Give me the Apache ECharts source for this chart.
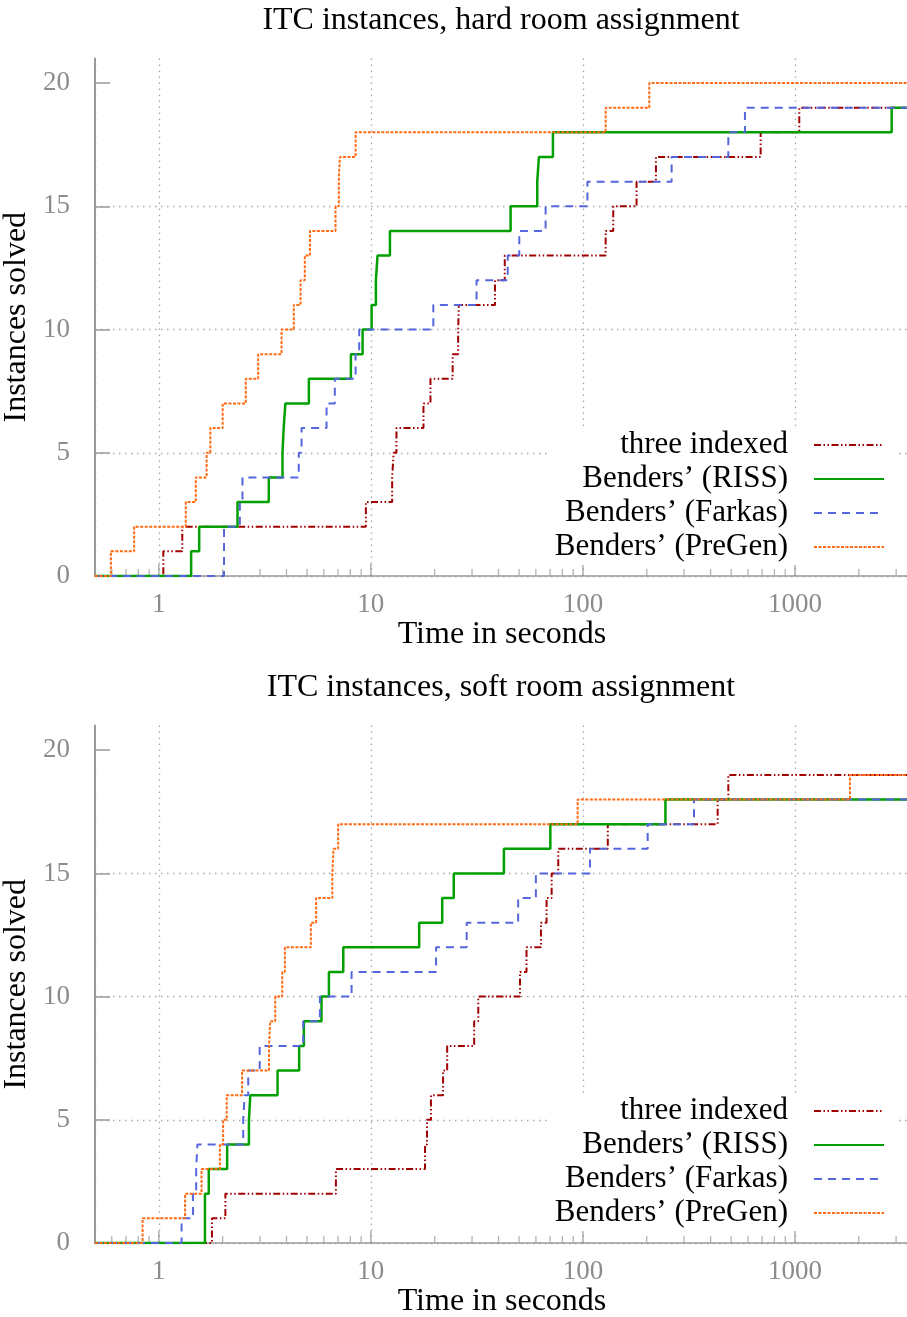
<!DOCTYPE html>
<html>
<head>
<meta charset="utf-8">
<script src="https://cdn.jsdelivr.net/npm/echarts@6/dist/echarts.min.js"></script>
<style>
html, body { margin: 0; padding: 0; background: #fff; }
#chart { width: 907px; height: 1317px; }
</style>
</head>
<body>
<div id="chart"></div>
<script>
// axis ticks
const majorTicks = [1, 10, 100, 1000];
const minorTicks = [0.6, 0.7, 0.8, 0.9, 2, 3, 4, 5, 6, 7, 8, 9, 20, 30, 40, 50, 60, 70, 80, 90,
  200, 300, 400, 500, 600, 700, 800, 900, 2000, 3000];
const yTicks = [0, 5, 10, 15, 20];
const xMin = 0.5;
const xMax = 3450;

const seriesNames = ['three indexed', 'Benders’ (RISS)', 'Benders’ (Farkas)', 'Benders’ (PreGen)'];
const titles = ['ITC instances, hard room assignment', 'ITC instances, soft room assignment'];

// solve times in seconds, one entry per solved instance (hard room assignment)
const hardThreeIndexed = [1.05, 1.29, 9.47, 12.6, 12.8, 13.2, 17.7, 19.1, 24.3, 25.8, 26.0, 38.5, 42.8, 128, 139, 179, 221, 689, 1048];
const hardRiss = [1.42, 1.55, 2.35, 3.30, 3.83, 3.88, 3.95, 5.1, 8.05, 9.14, 10.08, 10.56, 10.75, 12.3, 45.6, 60.9, 62.0, 72.2, 2858];
const hardFarkas = [2.03, 2.03, 2.41, 2.48, 4.57, 4.71, 6.18, 6.76, 8.47, 8.81, 19.7, 31.5, 44.2, 50.1, 66.7, 105, 262, 485, 581];
const hardPreGen = [0.594, 0.765, 1.34, 1.494, 1.68, 1.75, 2.0, 2.57, 2.94, 3.79, 4.33, 4.66, 4.88, 5.16, 6.81, 7.06, 7.14, 8.47, 128, 205.6];

// soft room assignment
const softThreeIndexed = [1.78, 2.06, 6.84, 18.0, 18.4, 19.2, 21.9, 22.9, 30.7, 32.1, 50.5, 54.2, 63.4, 67.4, 71.2, 76.5, 131, 432, 485];
const softRiss = [1.65, 1.65, 1.72, 2.10, 2.66, 2.70, 3.63, 4.59, 4.83, 5.85, 6.34, 7.41, 16.9, 21.7, 24.6, 42.4, 70.2, 245];
const softFarkas = [1.28, 1.45, 1.50, 1.52, 2.50, 2.54, 2.64, 2.99, 4.80, 5.75, 8.11, 20.3, 28.3, 49.5, 60, 108, 202, 334];
const softPreGen = [0.838, 1.33, 1.59, 1.94, 2.01, 2.09, 2.47, 3.31, 3.35, 3.54, 3.82, 3.93, 5.21, 5.52, 6.58, 6.67, 7.01, 94.4, 1817];

const font = 'Liberation Serif';
const tickGray = '#8c8c8c';
const lineGray = '#9a9a9a';

const styles = [
  { color: '#a00000', width: 2, type: [7, 2.5, 1.5, 2.5, 1.5, 2.5] },
  { color: '#00a000', width: 2.5, type: 'solid' },
  { color: '#5566dd', width: 2, type: [8, 6] },
  { color: '#ff6a13', width: 2, type: [3, 1.5] },
];

// cumulative count of solved instances
function steps(times) {
  const data = [[xMin, 0]];
  times.forEach((t, i) => data.push([t, i + 1]));
  data.push([xMax, times.length]);
  return data;
}

const grids = [
  { left: 95, width: 814, top: 58.4, height: 517.6, containLabel: false, outerBoundsMode: 'none' },
  { left: 95, width: 814, top: 725.6, height: 517.4, containLabel: false, outerBoundsMode: 'none' },
];

const xAxes = [];
const yAxes = [];
[0, 1].forEach((g) => {
  xAxes.push({
    type: 'log', logBase: 10, gridIndex: g, min: xMin, max: xMax, position: 'bottom',
    name: 'Time in seconds', nameLocation: 'middle', nameGap: 40,
    nameTextStyle: { fontFamily: font, fontSize: 32, color: '#000' },
    axisLine: { show: true, onZero: false, lineStyle: { color: lineGray, width: 1.5 } },
    axisTick: { show: false },
    axisLabel: { customValues: majorTicks, margin: 15, fontFamily: font, fontSize: 27, color: tickGray,
      formatter: (v) => String(v) },
    splitLine: { show: true, lineStyle: { color: '#a8a8a8', width: 1.3, type: [1.5, 4.5] } },
  });
  yAxes.push({
    type: 'value', gridIndex: g, min: 0, max: 21,
    name: 'Instances solved', nameLocation: 'middle', nameGap: 52,
    nameTextStyle: { fontFamily: font, fontSize: 32, color: '#000' },
    axisLine: { show: true, lineStyle: { color: lineGray, width: 2 } },
    axisTick: { show: true, inside: true, length: 15, customValues: yTicks, lineStyle: { color: lineGray, width: 1.5 } },
    axisLabel: { customValues: yTicks, margin: 25, fontFamily: font, fontSize: 27, color: tickGray },
    splitLine: { show: true, showMaxLine: false, lineStyle: { color: '#a8a8a8', width: 1.3, type: [1.5, 4.5] } },
  });
});

const panels = [
  [hardThreeIndexed, hardRiss, hardFarkas, hardPreGen],
  [softThreeIndexed, softRiss, softFarkas, softPreGen],
];

// x ticks as thin marks standing on the bottom axis
function tickMarks(values, len, color) {
  return values.map((v) => ({
    value: [v, 0],
    symbolSize: [1.3, len],
    symbolOffset: [0, -len / 2],
    itemStyle: { color: color },
  }));
}

const series = [];
panels.forEach((panel, g) => {
  panel.forEach((times, k) => {
    series.push({
      name: seriesNames[k], type: 'line', step: 'end',
      xAxisIndex: g, yAxisIndex: g,
      symbol: 'none', silent: true,
      data: steps(times),
      lineStyle: styles[k], itemStyle: { color: styles[k].color },
    });
  });
  series.push({
    name: 'ticks' + g, type: 'scatter', symbol: 'rect',
    xAxisIndex: g, yAxisIndex: g, silent: true, clip: false, z: 1,
    data: tickMarks(majorTicks, 12, '#8a8a8a').concat(tickMarks(minorTicks, 7, '#a0a0a0')),
  });
});

function legend(top) {
  return {
    data: seriesNames, orient: 'vertical', align: 'right', right: 9, top: top,
    itemGap: 0, itemWidth: 70, itemHeight: 14,
    backgroundColor: '#fff', padding: [1, 13, 1, 8], selectedMode: false,
    itemStyle: { color: 'transparent', borderColor: 'transparent', borderWidth: 0 },
    textStyle: { fontFamily: font, fontSize: 31, color: '#000', lineHeight: 34, padding: [0, 21, 0, 0] },
  };
}

const chart = echarts.init(document.getElementById('chart'));
chart.setOption({
  animation: false,
  backgroundColor: '#fff',
  title: [
    { text: titles[0], left: 501, top: 5, textAlign: 'center', padding: 0,
      textStyle: { fontFamily: font, fontSize: 32, fontWeight: 'normal', color: '#000' } },
    { text: titles[1], left: 501, top: 672, textAlign: 'center', padding: 0,
      textStyle: { fontFamily: font, fontSize: 32, fontWeight: 'normal', color: '#000' } },
  ],
  legend: [legend(427), legend(1093)],
  grid: grids,
  xAxis: xAxes,
  yAxis: yAxes,
  series: series,
});
</script>
</body>
</html>
